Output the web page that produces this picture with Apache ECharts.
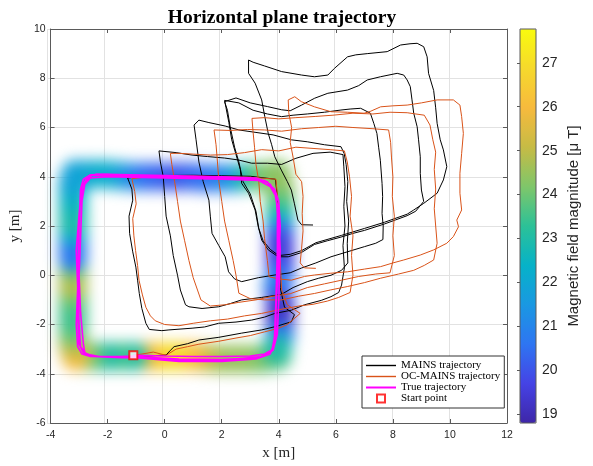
<!DOCTYPE html>
<html>
<head>
<meta charset="utf-8">
<script src="https://cdn.jsdelivr.net/npm/echarts@6/dist/echarts.min.js"></script>
<style>
  html, body { margin: 0; padding: 0; background: #fff; }
  #wrap { position: relative; width: 593px; height: 466px; }
  #gridLayer, #heat, #chart { position: absolute; left: 0; top: 0; width: 593px; height: 466px; }
  #heat { filter: blur(7px); }
</style>
</head>
<body>
<div id="wrap"><div id="gridLayer"></div><div id="heat"></div><div id="chart"></div></div>
<script>
// ---- data ----
const startPoint = [-1.1, -3.25];

const mainsXY = [
  [-1.1,-3.25],[-0.6,-3.28],[0.05,-3.24],[0.2,-3.05],[0.33,-2.9],[0.8,-2.78],[1.2,-2.63],[1.9,-2.52],[2.7,-2.35],[3.4,-2.22],[3.9,-2.08],[4.44,-1.89],[4.55,-1.6],[4.2,-1.3],[4.05,-0.5],[4.02,0.8],[3.98,2.0],[3.95,3.2],[3.88,3.9],[3.0,4.02],[2.0,4.04],[1.0,4.06],[0.0,4.05],[-0.8,4.02],[-1.3,3.95],
  [-1.15,3.5],[-1.12,3.05],[-1.25,2.4],[-1.23,1.7],[-1.12,0.95],[-1.01,0.33],[-0.95,-0.2],[-0.89,-0.74],[-0.8,-1.35],[-0.66,-1.95],[-0.54,-2.2],
  [-0.1,-2.25],[0.15,-2.22],[0.96,-2.15],[1.4,-2.1],[1.89,-1.95],[2.5,-1.9],[3.05,-1.82],[3.5,-1.7],[3.86,-1.55],[4.44,-1.42],[4.9,-1.2],[5.49,-1.02],[5.83,-0.87],[6.1,-0.7],[6.2,-0.4],
  [6.3,0.3],[6.25,1.2],[6.32,2.0],[6.28,2.8],[6.32,3.6],[6.28,4.4],[6.25,4.9],
  [5.8,5.0],[5.2,4.95],[4.6,4.75],[4.1,4.5],[3.6,4.55],[3.05,4.55],[2.59,4.68],[2.1,4.76],[1.5,4.82],[0.96,4.88],[0.4,4.98],[-0.2,5.05],
  [-0.15,4.6],[-0.05,4.0],[0.0,3.2],[0.05,2.4],[0.2,1.6],[0.3,0.8],[0.45,0.0],[0.55,-0.6],[0.73,-1.2],
  [0.85,-1.28],[1.31,-1.35],[1.89,-1.28],[2.3,-1.15],[2.7,-1.0],[3.4,-0.9],[4.09,-0.78],[4.5,-0.5],[5.0,-0.26],[5.4,-0.12],[5.83,0.0],[6.2,0.2],[6.42,0.5],
  [6.4,1.3],[6.45,2.2],[6.38,3.0],[6.42,3.8],[6.36,4.5],[6.29,4.95],[6.18,5.22],
  [5.6,5.3],[5.0,5.42],[4.44,5.5],[3.8,5.7],[3.2,5.8],[2.6,5.9],[2.12,6.06],[1.55,6.2],[1.2,6.3],[1.03,6.1],
  [1.1,5.5],[1.2,4.6],[1.35,3.8],[1.55,3.05],[1.6,2.4],[1.66,1.7],[1.9,1.2],[2.12,0.75],[2.24,0.14],[2.45,-0.15],[2.7,-0.26],
  [3.28,-0.1],[3.86,0.01],[4.4,0.1],[4.79,0.29],[5.3,0.5],[5.83,0.75],[6.4,0.95],[7.0,1.16],[7.4,1.3],[7.65,1.45],
  [7.66,2.0],[7.62,2.51],[7.64,3.2],[7.62,3.73],[7.56,4.67],[7.5,5.2],[7.44,5.76],[7.33,6.17],[7.21,6.58],[6.87,6.78],
  [6.5,6.75],[6.18,6.71],[5.6,6.62],[5.0,6.55],[4.5,6.5],[4.1,6.44],[3.6,6.55],[3.1,6.7],[2.6,7.0],[2.1,7.1],
  [2.15,6.8],[2.25,6.2],[2.35,5.5],[2.5,4.9],[2.65,4.3],[2.7,3.73],[2.94,3.33],[3.17,2.65],[3.28,1.97],[3.4,1.43],[3.63,1.03],[3.98,0.75],[4.33,0.75],
  [4.79,0.92],[5.25,1.25],[5.7,1.4],[6.18,1.55],[6.6,1.7],[7.0,1.82],[7.7,2.08],[8.1,2.25],[8.5,2.42],[8.8,2.6],[9.08,3.0],
  [9.0,3.46],[8.96,4.14],[8.96,4.81],[8.9,5.5],[8.85,6.03],[8.73,6.58],[8.67,7.12],[8.61,7.66],[8.5,7.93],[8.38,8.13],[8.15,8.2],
  [7.56,8.06],[7.1,7.93],[6.8,7.7],[6.41,7.52],[5.72,7.39],[5.26,7.19],[4.8,6.91],[4.4,6.68],[4.1,6.72],[3.6,6.85],[3.0,7.0],[2.5,7.2],[2.1,7.05],
  [2.2,6.7],[2.3,6.0],[2.45,5.2],[2.6,4.6],[2.75,3.8],[3.0,3.3],[3.2,2.6],[3.3,1.9],[3.45,1.4],[3.7,1.05],[4.0,0.8],[4.4,0.85],
  [4.8,1.0],[5.3,1.32],[6.2,1.62],[7.0,1.9],[7.7,2.15],[8.5,2.48],[8.73,2.65],[9.08,2.92],[9.55,3.33],[9.77,3.87],
  [9.89,4.41],[9.77,5.09],[9.66,5.5],[9.55,6.17],[9.5,6.8],[9.43,7.5],[9.25,8.2],[9.2,8.87],[9.08,9.28],[8.85,9.42],
  [8.6,9.4],[8.27,9.35],[7.8,9.08],[7.1,9.0],[6.7,8.95],[6.41,8.87],[5.95,8.4],[5.72,8.13],[5.25,8.06],[4.8,8.13],[4.1,8.27],[3.5,8.5],[3.1,8.65],[2.94,8.74],
  [2.94,8.2],[3.17,7.8],[3.4,7.12],[3.51,6.44],[3.63,5.76],[3.75,5.3],[3.86,4.81],[4.09,4.27],[4.3,3.8],[4.44,3.46],[4.55,2.9],[4.67,2.24],[4.8,2.05],[5.2,2.04]
];

const ocMainsXY = [
  [-1.1,-3.25],[-0.8,-3.2],[-0.4,-3.12],[0.05,-3.25],[0.4,-3.0],[0.8,-2.9],[1.2,-2.8],[1.9,-2.68],[2.5,-2.55],[3.0,-2.45],[3.5,-2.3],[4.0,-2.15],[4.3,-2.0],[4.75,-1.55],[4.3,-1.2],[4.1,-0.6],[4.05,0.6],[4.0,1.8],[3.97,3.0],[3.9,3.9],[3.0,3.98],[2.0,4.0],[1.0,4.03],[0.0,4.02],[-0.6,4.0],[-1.15,3.92],
  [-1.05,3.4],[-1.0,2.9],[-1.12,2.3],[-1.08,1.6],[-1.02,1.0],[-0.95,0.4],[-0.9,-0.2],[-0.78,-0.8],[-0.66,-1.3],[-0.5,-1.65],[-0.33,-1.85],
  [0.0,-2.0],[0.5,-2.05],[1.0,-1.95],[1.6,-1.85],[2.2,-1.78],[2.8,-1.65],[3.4,-1.55],[4.0,-1.4],[4.7,-1.25],[5.2,-1.18],[5.7,-1.05],[6.1,-0.9],[6.5,-0.7],
  [6.6,0.0],[6.55,0.8],[6.6,1.6],[6.5,2.4],[6.55,3.2],[6.48,4.0],[6.4,4.6],[6.3,5.05],
  [5.8,5.1],[5.2,5.15],[4.6,5.2],[4.0,5.05],[3.4,5.1],[2.8,4.98],[2.2,4.9],[1.6,4.88],[1.0,4.92],[0.5,4.95],[0.2,4.95],
  [0.25,4.5],[0.35,3.8],[0.45,3.0],[0.55,2.2],[0.7,1.4],[0.85,0.6],[1.0,-0.1],[1.15,-0.6],[1.27,-1.0],
  [1.6,-1.25],[2.1,-1.2],[2.6,-1.1],[3.2,-1.0],[3.8,-0.85],[4.4,-0.75],[5.0,-0.5],[5.6,-0.35],[6.2,-0.2],[6.8,-0.05],[7.4,0.05],[7.9,0.1],
  [8.05,0.8],[8.0,1.6],[8.05,2.4],[7.98,3.2],[8.0,4.0],[7.95,4.8],[7.92,5.4],[7.85,5.9],
  [7.3,5.95],[6.6,6.0],[6.0,6.05],[5.4,6.0],[4.8,5.95],[4.1,5.85],[3.5,5.9],[2.9,5.92],[2.3,5.88],[1.73,5.9],
  [1.8,5.3],[1.85,4.6],[1.9,3.8],[2.0,3.0],[2.1,2.2],[2.25,1.4],[2.4,0.6],[2.5,0.0],[2.6,-0.73],
  [3.0,-0.95],[3.5,-1.0],[4.1,-1.0],[4.7,-0.85],[5.25,-0.74],[5.8,-0.6],[6.4,-0.46],[7.0,-0.3],[7.57,-0.12],[8.2,0.05],[8.73,0.2],[9.1,0.4],[9.43,0.62],
  [9.55,1.3],[9.5,2.0],[9.45,2.7],[9.5,3.5],[9.45,4.3],[9.5,5.0],[9.4,5.5],[9.3,6.1],[9.1,6.5],
  [8.5,6.6],[7.9,6.62],[7.3,6.55],[6.6,6.58],[5.9,6.5],[5.3,6.45],[4.6,6.4],[4.0,6.35],[3.5,6.4],[3.06,6.37],
  [3.1,5.8],[3.15,5.2],[3.2,4.5],[3.3,3.8],[3.35,3.0],[3.45,2.2],[3.5,1.5],[3.6,0.6],[3.66,-0.06],
  [4.0,-0.15],[4.44,-0.2],[4.9,-0.05],[5.25,0.01],[5.8,0.08],[6.41,0.14],[7.0,0.25],[7.57,0.35],[8.0,0.5],[8.38,0.62],[8.96,0.82],[9.43,1.03],[9.89,1.3],[10.12,1.57],[10.3,1.97],
  [10.24,2.24],[10.41,2.65],[10.35,3.33],[10.35,4.14],[10.41,4.95],[10.47,5.76],[10.41,6.44],[10.35,6.91],[10.12,7.12],
  [9.55,7.12],[9.0,7.0],[8.5,6.91],[8.0,6.88],[7.57,6.84],[7.2,6.65],[6.99,6.58],[6.4,6.62],[5.83,6.64],[5.25,6.84],[4.79,7.05],[4.56,7.25],[4.33,7.12],
  [4.35,6.6],[4.45,6.0],[4.4,5.4],[4.5,4.8],[4.6,4.1],[4.8,3.8],[4.85,3.2],[4.82,2.5],[4.85,1.8],[4.8,1.1],[4.75,0.5],[4.9,0.3],[5.3,0.28]
];

const trueXY = [
  [-1.1,-3.25],[0,-3.28],[1,-3.3],[2,-3.3],[3,-3.28],[3.5,-3.2],[3.8,-3.0],[3.9,-2.6],[3.9,-1.5],[3.95,0],[4.0,1.5],[3.95,2.8],[3.85,3.4],[3.6,3.8],[3.2,3.95],[2,4.0],[0,4.05],[-2,4.1],[-2.6,4.08],[-2.85,3.9],[-2.95,3.5],[-3.0,2],[-3.05,0],[-3.0,-2],[-2.95,-2.9],[-2.75,-3.2],[-2.3,-3.3],[-1.5,-3.3],
  [-1.1,-3.3],[0.5,-3.4],[2,-3.42],[3.3,-3.35],[3.75,-3.1],[3.85,-2.5],[3.9,-1],[3.95,1],[3.95,2.5],[3.9,3.3],[3.7,3.7],[3.3,3.9],[2,3.95],[0,4.0],[-2,4.05],[-2.55,4.05],[-2.8,3.8],[-2.9,3.2],[-2.95,1.5],[-3.0,0],[-3.05,-1.5],[-3.0,-2.8],[-2.85,-3.15],[-2.5,-3.3],[-1.5,-3.35],
  [-1.0,-3.35],[0.5,-3.5],[2,-3.5],[3.2,-3.4],[3.7,-3.2],[3.85,-2.7],[3.9,-1.2],[4.0,0.5],[4.05,2],[4.0,3.0],[3.85,3.5],[3.5,3.85],[2.5,3.95],[1,4.0],[-1,4.05],[-2.4,4.1],[-2.7,4.0],[-2.9,3.6],[-3.0,2.5],[-3.1,1],[-3.05,-0.5],[-3.1,-2],[-3.05,-2.9],[-2.9,-3.2],[-2.6,-3.3],[-1.5,-3.3],
  [-1.0,-3.3],[0.5,-3.45],[2,-3.45],[3.4,-3.3],[3.8,-3.05],[3.95,-2.4],[4.0,-1],[4.05,1],[4.0,2.5],[3.9,3.2],[3.7,3.6],[3.3,3.85],[2,3.9],[0,3.95],[-2,4.0],[-2.6,3.95],[-2.8,3.7],[-2.9,3.0],[-2.95,1.5],[-3.0,0],[-2.95,-1.5],[-2.85,-2.8],[-2.8,-3.15],[-2.5,-3.3],[-1.6,-3.3],[-1.1,-3.28]
];

// magnetic field samples along the walked square
const fieldX = [4.0,3.5,3.0,2.5,2.0,1.5,1.0,0.5,0.0,-0.5,-1.0,-1.5,-2.0,-2.5,-3.0,
  -3.1,-3.1,-3.1,-3.1,-3.1,-3.1,-3.1,-3.1,-3.1,-3.1,-3.1,-3.1,-3.1,-3.1,-3.0,
  -2.5,-2.0,-1.5,-1.0,-0.5,0.0,0.5,1.0,1.5,2.0,2.5,3.0,3.5,4.0,
  4.1,4.1,4.1,4.1,4.1,4.1,4.1,4.1,4.0,4.1,4.1,4.1,4.1,4.0];
const fieldY = [-3.3,-3.4,-3.4,-3.4,-3.4,-3.35,-3.3,-3.3,-3.3,-3.3,-3.3,-3.3,-3.3,-3.3,-3.3,
  -2.8,-2.3,-1.8,-1.3,-0.8,-0.3,0.2,0.7,1.2,1.7,2.2,2.7,3.2,3.7,4.1,
  4.1,4.1,4.05,4.0,4.0,4.0,4.0,4.0,3.95,3.95,3.95,4.0,4.0,4.1,
  3.5,3.0,2.5,2.0,1.5,1.0,0.5,0.0,-0.5,-1.0,-1.5,-2.0,-2.5,-3.0];
const fieldB = [23.8,24.0,24.3,24.5,24.5,25.0,26.0,26.8,27.0,26.0,23.0,23.5,23.0,24.0,26.0,
  25.0,24.0,23.5,23.5,24.0,25.0,24.3,21.0,20.5,22.0,23.0,22.8,22.5,22.0,21.8,
  22.0,22.3,22.0,21.2,20.5,20.3,20.0,20.3,20.5,20.8,21.5,23.0,24.0,24.3,
  24.5,24.0,23.3,22.0,20.0,19.5,19.6,20.3,21.0,20.0,19.2,19.3,21.0,23.0];

const cbTicks = [19, 20, 21, 22, 23, 24, 25, 26, 27];
const parula = ['#3e26a8','#4543e5','#2e75f2','#1a98e2','#06b2c8','#2cc197','#7fc66a','#c6bb45','#f7ba3d','#f6d92c','#f9fb0e'];

const serif = 'Liberation Serif';
const sans = 'Liberation Sans';
const plotGrid = { left: 47, right: 86, top: 29, bottom: 43 };

// ---- grid lines, drawn under the field ----
const gridLayer = echarts.init(document.getElementById('gridLayer'));
gridLayer.setOption({
  animation: false,
  grid: plotGrid,
  xAxis: {
    type: 'value', min: -4, max: 12, interval: 2,
    axisLine: { show: false }, axisTick: { show: false }, axisLabel: { show: false },
    splitLine: { show: true, lineStyle: { color: '#e2e2e2' } }
  },
  yAxis: {
    type: 'value', min: -6, max: 10, interval: 2,
    axisLine: { show: false }, axisTick: { show: false }, axisLabel: { show: false },
    splitLine: { show: true, lineStyle: { color: '#e2e2e2' } }
  },
  series: []
});

// ---- blurred field layer ----
const heat = echarts.init(document.getElementById('heat'));
heat.setOption({
  animation: false,
  grid: plotGrid,
  xAxis: { type: 'value', min: -4, max: 12, show: false },
  yAxis: { type: 'value', min: -6, max: 10, show: false },
  visualMap: {
    show: false, min: 18.8, max: 27.77, dimension: 2,
    inRange: { color: parula }
  },
  series: [{
    type: 'scatter',
    symbolSize: 29,
    data: fieldX.map((x, i) => [x, fieldY[i], fieldB[i]]),
    itemStyle: { opacity: 1 }
  }]
});

// ---- main chart ----
const chart = echarts.init(document.getElementById('chart'));
const axisCol = '#5a5a5a';
const lineIcon = 'path://M0,0H30V1.4H0Z';
chart.setOption({
  animation: false,
  title: {
    text: 'Horizontal plane trajectory',
    left: 277, top: 3, textAlign: 'center',
    textStyle: { fontFamily: serif, fontWeight: 'bold', fontSize: 19.5, color: '#000' }
  },
  legend: {
    orient: 'vertical', left: 362, top: 356,
    itemWidth: 30, itemHeight: 8, itemGap: 0,
    padding: [4, 4, 4, 4],
    backgroundColor: '#fff', borderColor: '#333', borderWidth: 1,
    textStyle: { fontFamily: serif, fontSize: 11, color: '#000' },
    data: [
      { name: 'MAINS trajectory', icon: lineIcon },
      { name: 'OC-MAINS trajectory', icon: lineIcon },
      { name: 'True trajectory', icon: 'path://M0,0H30V2H0Z' },
      { name: 'Start point', icon: 'path://M0,0H10V10H0Z' }
    ]
  },
  grid: [
    plotGrid,
    { left: 520, top: 29, width: 16, height: 394, show: true, borderColor: axisCol, borderWidth: 1, z: 10 }
  ],
  xAxis: [
    {
      type: 'value', min: -4, max: 12, interval: 2, gridIndex: 0, position: 'bottom',
      name: 'x [m]', nameLocation: 'middle', nameGap: 19,
      nameTextStyle: { fontFamily: serif, fontSize: 15, color: '#262626' },
      axisLine: { onZero: false, lineStyle: { color: axisCol } },
      axisTick: { inside: true, length: 4, lineStyle: { color: axisCol } },
      axisLabel: { fontFamily: sans, fontSize: 10.5, color: '#262626', margin: 7 },
      splitLine: { show: false }
    },
    {
      type: 'value', min: -4, max: 12, interval: 2, gridIndex: 0, position: 'top',
      axisLine: { onZero: false, lineStyle: { color: axisCol } },
      axisTick: { inside: true, length: 4, lineStyle: { color: axisCol } },
      axisLabel: { show: false }, splitLine: { show: false }
    },
    { type: 'value', gridIndex: 1, min: 0, max: 1, show: false }
  ],
  yAxis: [
    {
      type: 'value', min: -6, max: 10, interval: 2, gridIndex: 0, position: 'left',
      name: 'y [m]', nameLocation: 'middle', nameGap: 21, nameRotate: 90,
      nameTextStyle: { fontFamily: serif, fontSize: 15, color: '#262626' },
      axisLine: { onZero: false, lineStyle: { color: axisCol } },
      axisTick: { inside: true, length: 4, lineStyle: { color: axisCol } },
      axisLabel: { fontFamily: sans, fontSize: 10.5, color: '#262626', margin: 5 },
      splitLine: { show: false }
    },
    {
      type: 'value', min: -6, max: 10, interval: 2, gridIndex: 0, position: 'right',
      axisLine: { onZero: false, lineStyle: { color: axisCol } },
      axisTick: { inside: true, length: 4, lineStyle: { color: axisCol } },
      axisLabel: { show: false }, splitLine: { show: false }
    },
    {
      type: 'value', gridIndex: 1, min: 18.8, max: 27.77, position: 'right', z: 10,
      name: 'Magnetic field magnitude [μ T]', nameLocation: 'middle', nameGap: 30, nameRotate: 90,
      nameTextStyle: { fontFamily: sans, fontSize: 15, color: '#262626' },
      axisLine: { show: false },
      axisTick: { inside: true, length: 3, customValues: cbTicks, lineStyle: { color: axisCol } },
      axisLabel: { customValues: cbTicks, fontFamily: sans, fontSize: 14, color: '#262626', margin: 6 },
      splitLine: { show: false }
    }
  ],
  visualMap: {
    type: 'continuous', seriesIndex: 4, min: 18.8, max: 27.77,
    left: 520, top: 29, itemWidth: 16, itemHeight: 394, padding: 0,
    calculable: false, inRange: { color: parula }
  },
  series: [
    {
      name: 'MAINS trajectory', type: 'line', data: mainsXY, symbol: 'none',
      lineStyle: { color: '#000', width: 1 }, itemStyle: { color: '#000' }
    },
    {
      name: 'OC-MAINS trajectory', type: 'line', data: ocMainsXY, symbol: 'none',
      lineStyle: { color: '#D95319', width: 1 }, itemStyle: { color: '#D95319' }
    },
    {
      name: 'True trajectory', type: 'line', data: trueXY, symbol: 'none',
      lineStyle: { color: '#FF00FF', width: 1.6 }, itemStyle: { color: '#FF00FF' }
    },
    {
      name: 'Start point', type: 'scatter', data: [startPoint],
      symbol: 'rect', symbolSize: 8, z: 5,
      itemStyle: { color: '#fff', borderColor: '#FF0000', borderWidth: 2 }
    },
    { type: 'scatter', data: [] }
  ]
});

window.addEventListener('resize', function() {
  gridLayer.resize();
  heat.resize();
  chart.resize();
});
</script>
</body>
</html>
